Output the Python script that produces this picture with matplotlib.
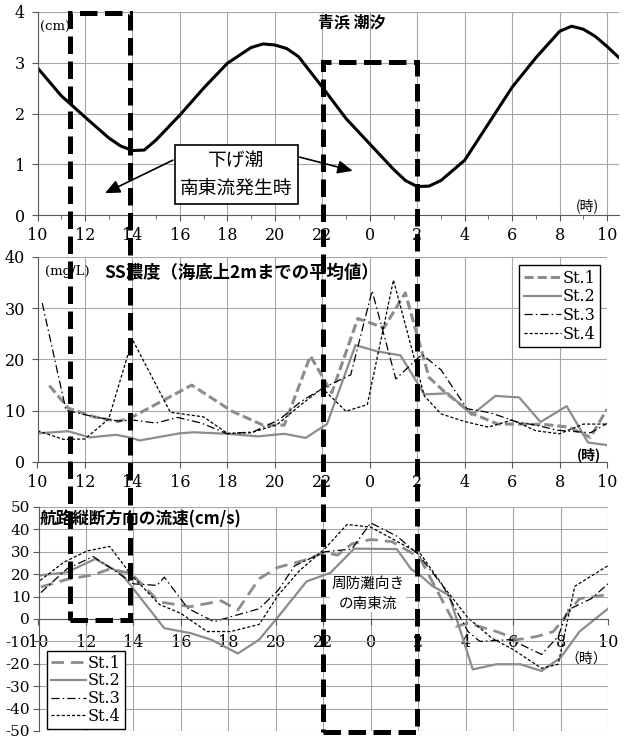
import matplotlib
matplotlib.use("Agg")
import matplotlib.pyplot as plt
from matplotlib.patches import Rectangle

plt.rcParams["font.family"] = ["DejaVu Serif", "Noto Sans CJK JP"]
plt.rcParams["axes.unicode_minus"] = False

JP = ["Noto Sans CJK JP", "DejaVu Sans"]
GRAY = "#8c8c8c"
GRID = "#a6a6a6"

# hours run 10 -> 34 (34 = 10 o'clock next day)
tick_hours = [10, 12, 14, 16, 18, 20, 22, 24, 26, 28, 30, 32, 34]
tick_labels = ["10", "12", "14", "16", "18", "20", "22", "0", "2", "4", "6", "8", "10"]

# tide at Aohama (cm)
tide_hour = [10, 11, 12, 13, 13.5, 14, 14.5, 15, 16, 17, 18, 19, 19.5, 20, 20.5, 21,
             22, 23, 24, 25, 25.5, 26, 26.5, 27, 28, 29, 30, 31, 32, 32.5, 33, 33.5, 34, 34.5]
tide_cm = [2.90, 2.35, 1.93, 1.52, 1.36, 1.27, 1.28, 1.48, 1.97, 2.50, 2.99, 3.30, 3.37, 3.35, 3.28, 3.12,
           2.52, 1.90, 1.40, 0.90, 0.68, 0.56, 0.57, 0.68, 1.08, 1.80, 2.52, 3.10, 3.62, 3.72, 3.66, 3.52, 3.32, 3.10]

# SS concentration (mg/L)
ss1_hour = [10.5, 11.3, 12.4, 13.4, 14.0, 16.5, 18.2, 19.5, 20.4, 21.5, 22.4, 23.5, 24.6, 25.5,
            26.5, 27.2, 28.3, 29.4, 30.4, 31.4, 32.4, 33.3, 34.0]
ss1 = [14.9, 10.5, 8.8, 7.9, 8.8, 15.0, 9.9, 7.2, 7.2, 20.7, 13.5, 28.0, 26.2, 33.0,
       16.5, 13.5, 9.5, 7.4, 7.4, 7.3, 6.8, 4.8, 10.3]
ss2_hour = [10.0, 11.3, 12.2, 13.3, 13.9, 14.3, 16.0, 16.6, 18.0, 19.3, 20.4, 21.3, 22.2,
            23.4, 24.3, 25.3, 26.0, 26.3, 27.3, 28.3, 29.3, 30.3, 31.2, 32.3, 33.2, 34.0]
ss2 = [5.6, 6.0, 4.8, 5.3, 4.8, 4.2, 5.6, 5.8, 5.5, 5.0, 5.5, 4.7, 7.4,
       22.8, 21.6, 20.8, 15.5, 13.2, 13.4, 9.2, 12.9, 12.6, 7.8, 10.9, 3.8, 3.3]
ss3_hour = [10.2, 11.2, 12.4, 13.4, 14.0, 15.0, 15.9, 16.9, 18.0, 19.1, 20.2, 21.1, 22.1,
            23.2, 24.1, 25.1, 26.2, 27.0, 28.1, 29.1, 30.2, 31.0, 31.9, 33.3, 34.0]
ss3 = [31.0, 10.1, 8.8, 8.0, 8.2, 7.6, 8.7, 7.6, 5.5, 5.9, 8.3, 11.8, 14.6,
       17.0, 33.4, 16.2, 21.0, 18.0, 10.4, 9.6, 7.8, 7.2, 6.2, 5.7, 7.5]
ss4_hour = [10.0, 11.1, 12.0, 13.0, 14.0, 15.6, 17.0, 18.0, 19.0, 20.1, 21.0, 22.0, 23.0,
            23.9, 25.0, 26.3, 27.0, 28.0, 29.0, 30.0, 31.0, 32.0, 33.0, 34.0]
ss4 = [6.1, 4.4, 4.5, 8.4, 23.9, 9.7, 8.8, 5.6, 5.7, 7.3, 10.8, 14.4, 9.9,
       11.2, 35.5, 12.9, 9.4, 7.9, 6.8, 8.2, 6.1, 5.5, 7.4, 7.4]

# velocity along the channel (cm/s)
v1_hour = [10.1, 11.2, 12.3, 13.0, 13.9, 15.1, 16.4, 17.7, 18.4, 19.3, 20.1, 21.2, 22.05, 22.6,
           23.2, 24.0, 24.9, 25.7, 26.1, 26.9, 27.6, 28.1, 29.3, 30.2, 31.0, 31.7, 32.3, 32.8, 34.0]
v1 = [14.3, 17.7, 19.7, 22.3, 20.4, 7.6, 5.5, 8.1, 4.0, 18.0, 23.1, 26.2, 29.7, 28.5,
      33.5, 35.5, 34.5, 29.7, 26.7, 10.6, -3.3, -1.9, -5.6, -9.2, -7.8, -5.6, 2.5, 9.1, 10.9]
v2_hour = [10.0, 11.2, 12.4, 13.5, 15.3, 16.4, 17.3, 18.4, 19.3, 20.1, 21.3, 22.3, 23.3,
           24.2, 25.1, 25.7, 26.1, 26.6, 27.3, 28.3, 29.3, 30.3, 31.2, 32.0, 32.8, 33.4, 34.0]
v2 = [19.4, 20.9, 26.8, 20.2, -4.1, -6.3, -9.3, -15.4, -9.2, 1.0, 16.8, 20.6, 31.4,
      31.3, 31.2, 22.3, 19.4, 14.7, 10.6, -22.5, -20.2, -20.2, -23.2, -17.3, -5.6, -0.5, 4.6]
v3_hour = [10.1, 11.2, 12.3, 13.3, 14.0, 15.0, 15.3, 16.3, 17.4, 18.1, 19.3, 20.1, 20.8,
           22.05, 23.2, 24.0, 25.1, 26.0, 27.05, 28.1, 28.6, 29.9, 31.2, 31.9, 32.3, 33.3, 34.0]
v3 = [11.8, 22.4, 27.9, 20.9, 15.7, 15.0, 18.7, 4.7, -1.2, 1.0, 4.6, 12.8, 23.8,
      30.0, 31.2, 42.9, 37.0, 28.9, 14.6, -5.6, -10.0, -9.2, -15.8, -7.8, 4.0, 9.1, 15.7]
v4_hour = [10.07, 11.06, 12.05, 13.0, 13.95, 15.1, 16.0, 17.1, 18.1, 19.3, 20.1, 21.0, 22.05,
           23.0, 24.0, 26.1, 27.1, 28.1, 29.1, 30.0, 31.2, 31.9, 32.6, 34.0]
v4 = [17.2, 25.3, 30.4, 32.4, 19.1, 6.5, 2.5, -5.6, -5.6, -2.4, 10.6, 21.6, 31.2,
      42.2, 41.0, 29.0, 14.0, 0.5, -8.5, -13.6, -22.0, -20.2, 14.6, 23.8]

station_labels = ["St.1", "St.2", "St.3", "St.4"]


def style_axes(ax):
    ax.set_xticks(tick_hours)
    ax.set_xticklabels(tick_labels)
    ax.grid(True, color=GRID, linewidth=0.8)
    ax.set_axisbelow(True)
    for side in ["top", "right"]:
        ax.spines[side].set_visible(False)
    for side in ["left", "bottom"]:
        ax.spines[side].set_color("#595959")
    ax.tick_params(labelsize=11.5, length=4, width=0.8, color="#595959", pad=5)


W, H = 625, 740
fig = plt.figure(figsize=(6.25, 7.4), dpi=100)

# ---- tide ----
ax1 = fig.add_axes([37.5 / W, 1 - 215 / H, (619 - 37.5) / W, (215 - 12) / H])
ax1.plot(tide_hour, tide_cm, color="black", linewidth=2.2)
ax1.set_xlim(10, 34.5)
ax1.set_ylim(0, 4)
ax1.set_yticks([0, 1, 2, 3, 4])
style_axes(ax1)
ax1.set_xticks(range(11, 35, 2), minor=True)
ax1.tick_params(which="minor", length=3, color="#595959")
ax1.text(10.1, 3.7, "(cm)", fontsize=9.5, va="center")
ax1.text(23.25, 3.8, "青浜 潮汐", family=JP, fontsize=11.5, fontweight="bold", ha="center", va="center")
ax1.text(33.15, 0.18, "(時)", family=JP, fontsize=10, ha="center", va="center")
ax1.text(18.38, 0.79, "下げ潮\n南東流発生時", family=JP, fontsize=13.5, ha="center", va="center",
         linespacing=1.35, zorder=5,
         bbox=dict(boxstyle="square,pad=0.3", facecolor="white", edgecolor="black", linewidth=1.2))
arrow = dict(arrowstyle="-|>,head_length=0.9,head_width=0.4", color="black", linewidth=1.2,
             shrinkA=0, shrinkB=0)
ax1.annotate("", xy=(12.84, 0.43), xytext=(15.7, 1.08), arrowprops=arrow, zorder=4)
ax1.annotate("", xy=(23.28, 0.87), xytext=(21.05, 1.14), arrowprops=arrow, zorder=4)

# ---- SS ----
ax2 = fig.add_axes([37.5 / W, 1 - 462 / H, (607 - 37.5) / W, (462 - 257) / H])
ax2.plot(ss1_hour, ss1, color=GRAY, linewidth=2.2, linestyle=(0, (3, 1.3)), label=station_labels[0])
ax2.plot(ss2_hour, ss2, color=GRAY, linewidth=1.6, label=station_labels[1])
ax2.plot(ss3_hour, ss3, color="black", linewidth=0.9, linestyle=(0, (6.5, 2.5, 1.2, 2.5)),
         label=station_labels[2])
ax2.plot(ss4_hour, ss4, color="black", linewidth=0.9, linestyle=(0, (2.5, 1.6)), label=station_labels[3])
ax2.set_xlim(10, 34)
ax2.set_ylim(0, 40)
ax2.set_yticks([0, 10, 20, 30, 40])
style_axes(ax2)
ax2.text(10.3, 37.1, "(mg/L)", fontsize=9.5, va="center")
ax2.text(18.62, 36.9, "SS濃度（海底上2mまでの平均値）", family=JP, fontsize=12.5, fontweight="bold",
         ha="center", va="center")
ax2.text(33.24, 1.4, "(時)", family=JP, fontsize=10, fontweight="bold", ha="center", va="center")
ax2.legend(loc="upper right", bbox_to_anchor=(0.988, 0.961), fontsize=11.5, handlelength=2.3,
           labelspacing=0.1, borderpad=0.3, handletextpad=0.1, borderaxespad=0,
           fancybox=False, framealpha=1, edgecolor="black")

# ---- velocity ----
ax3 = fig.add_axes([38.5 / W, 1 - 731 / H, (608 - 38.5) / W, (731 - 507) / H])
ax3.plot(v1_hour, v1, color=GRAY, linewidth=2.0, linestyle=(0, (4.5, 2.5)), label=station_labels[0])
ax3.plot(v2_hour, v2, color=GRAY, linewidth=1.6, label=station_labels[1])
ax3.plot(v3_hour, v3, color="black", linewidth=0.9, linestyle=(0, (6.5, 2.5, 1.2, 2.5)),
         label=station_labels[2])
ax3.plot(v4_hour, v4, color="black", linewidth=0.9, linestyle=(0, (2.5, 1.6)), label=station_labels[3])
ax3.set_xlim(10, 34)
ax3.set_ylim(-50, 50)
ax3.set_yticks(range(-50, 51, 10))
style_axes(ax3)
ax3.spines["bottom"].set_position(("data", 0))
ax3.tick_params(axis="x", pad=7)
ax3.tick_params(axis="y", pad=2, labelsize=11)
ax3.text(10.06, 44.4, "航路縦断方向の流速(cm/s)", family=JP, fontsize=12, fontweight="bold",
         ha="left", va="center")
ax3.text(33.1, -17.5, "（時）", family=JP, fontsize=10, ha="center", va="center")
ax3.text(23.89, 11.1, "周防灘向き\nの南東流", family=JP, fontsize=10.5, ha="center", va="center",
         linespacing=1.5, bbox=dict(boxstyle="square,pad=0.1", facecolor="white", edgecolor="none"))
ax3.legend(loc="lower left", bbox_to_anchor=(0.015, 0.009), fontsize=11.5, handlelength=2.2,
           labelspacing=0.05, borderpad=0.25, handletextpad=0.1, borderaxespad=0,
           fancybox=False, framealpha=1, edgecolor="black")

# dashed boxes marking the ebb-tide / south-east flow periods
box_style = dict(fill=False, edgecolor="black", linewidth=3.6, linestyle=(0, (3.5, 1.5)),
                 transform=fig.transFigure, zorder=10)
fig.add_artist(Rectangle((70 / W, 1 - 620 / H), 60 / W, (620 - 13) / H, **box_style))
fig.add_artist(Rectangle((323 / W, 1 - 732 / H), 94 / W, (732 - 62) / H, **box_style))

fig.savefig("out.png", dpi=100)
